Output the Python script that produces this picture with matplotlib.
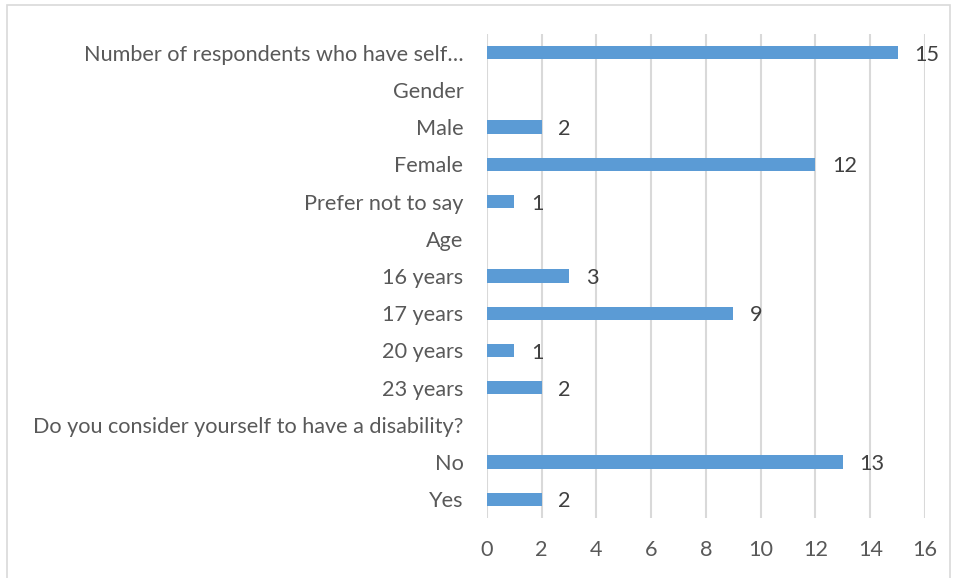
import numpy as np
import matplotlib.pyplot as plt
from matplotlib.patches import Rectangle

# Survey summary rows, top to bottom; header rows carry no value
categories = [
    "Number of respondents who have self\u2026",
    "Gender",
    "Male",
    "Female",
    "Prefer not to say",
    "Age",
    "16 years",
    "17 years",
    "20 years",
    "23 years",
    "Do you consider yourself to have a disability?",
    "No",
    "Yes",
]
counts = [15, None, 2, 12, 1, None, 3, 9, 1, 2, None, 13, 2]
x_ticks = [0, 2, 4, 6, 8, 10, 12, 14, 16]

BAR_COLOR = "#5B9BD5"
TEXT_COLOR = "#595959"
GRID_COLOR = "#D9D9D9"

plt.rcParams["font.family"] = ["Lato", "DejaVu Sans"]
FS = 15.6

fig = plt.figure(figsize=(9.57, 5.78), dpi=100)
ax = fig.add_axes([487 / 957, 1 - 518 / 578, (925 - 487) / 957, (518 - 34) / 578])

y = np.arange(len(categories))
vals = [v if v is not None else 0 for v in counts]
ax.barh(y, vals, height=0.36, color=BAR_COLOR, zorder=3)

for yi, v in zip(y, counts):
    if v is not None:
        ax.annotate(str(v), (v, yi), xytext=(12, -1.5), textcoords="offset points",
                    va="center", ha="left", fontsize=FS, color="#404040")

ax.set_ylim(len(categories) - 0.5, -0.5)
ax.set_xlim(0, 16)
ax.set_xticks(x_ticks)
ax.set_yticks(y)
ax.set_yticklabels(categories)
ax.tick_params(axis="both", length=0, labelsize=FS, colors=TEXT_COLOR)
ax.tick_params(axis="y", pad=17)
ax.tick_params(axis="x", pad=16)
ax.xaxis.grid(True, color=GRID_COLOR, linewidth=1.5, zorder=0)
for s in ax.spines.values():
    s.set_visible(False)

# outer chart frame
fig.patches.append(Rectangle((7 / 957, -0.05), 943 / 957, 1 - 5 / 578 + 0.05,
                             transform=fig.transFigure, fill=False,
                             edgecolor=GRID_COLOR, linewidth=1.2))

fig.savefig("out.png", dpi=100)
